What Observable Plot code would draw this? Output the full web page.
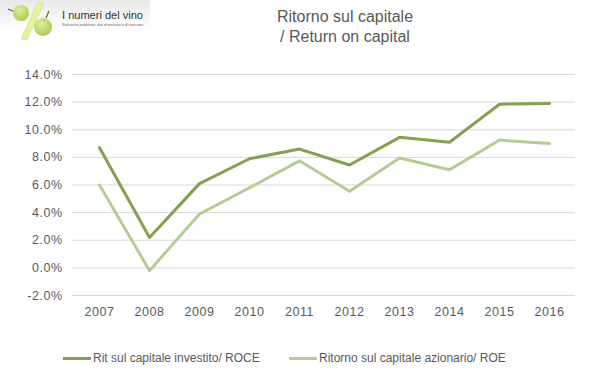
<!DOCTYPE html>
<html>
<head>
<meta charset="utf-8">
<script src="https://cdn.jsdelivr.net/npm/d3@7"></script>
<script src="https://cdn.jsdelivr.net/npm/@observablehq/plot@0.6"></script>
<style>
  html, body { margin: 0; padding: 0; background: #fff; }
  #wrap { position: relative; width: 599px; height: 378px; overflow: hidden; font-family: "Liberation Sans", Arial, sans-serif; color: #595959; }
  #title { position: absolute; left: 245px; width: 200px; top: 7px; text-align: center; font-size: 16px; line-height: 20px; color: #595959; }
  #chart { position: absolute; left: 0; top: 0; }
  #legend { position: absolute; top: 350px; left: 0; width: 599px; height: 18px; font-size: 12px; }
  .li { position: absolute; top: 0; display: flex; align-items: center; height: 16px; white-space: pre; }
  .sw { width: 28px; height: 3px; margin-right: 2px; }
  #logo { position: absolute; left: 0; top: 0; }
</style>
</head>
<body>
<div id="wrap">
  <svg id="logo" width="170" height="46" viewBox="0 0 170 46">
    <defs>
      <linearGradient id="bg" x1="0" y1="0" x2="0" y2="1">
        <stop offset="0" stop-color="#e8e8e8"/>
        <stop offset="1" stop-color="#ffffff"/>
      </linearGradient>
      <radialGradient id="gr" cx="0.4" cy="0.35" r="0.7">
        <stop offset="0" stop-color="#dff0a0"/>
        <stop offset="1" stop-color="#a8c84a"/>
      </radialGradient>
    </defs>
    <rect x="0" y="0" width="150" height="30" fill="url(#bg)"/>
    <path d="M8,9 L15,12" stroke="#7a5a30" stroke-width="1.2"/>
    <circle cx="21" cy="13" r="8" fill="url(#gr)"/>
    <polygon points="38,2 44,3 27,40 21,39" fill="#e8f0a0" stroke="#d0dc80" stroke-width="0.6"/>
    <path d="M49,11 L46,18" stroke="#7a5a30" stroke-width="1.2"/>
    <circle cx="43" cy="27" r="9" fill="url(#gr)"/>
    <text x="62" y="19" font-size="11" textLength="81" lengthAdjust="spacingAndGlyphs" fill="#333" font-family="Liberation Sans, Arial, sans-serif">I numeri del vino</text>
    <text x="62" y="26" font-size="3.6" textLength="82" lengthAdjust="spacingAndGlyphs" fill="#666" font-family="Liberation Sans, Arial, sans-serif">Statistiche produttive, dati di mercato e di consumo.</text>
  </svg>
  <div id="title">Ritorno sul capitale<br>/ Return on capital</div>
  <div id="chart"></div>
  <div id="legend"></div>
</div>
<script>
const years = ["2007","2008","2009","2010","2011","2012","2013","2014","2015","2016"];
const roce = [8.7, 2.2, 6.1, 7.9, 8.6, 7.45, 9.45, 9.1, 11.85, 11.9];
const roe = [6.0, -0.2, 3.9, 5.8, 7.75, 5.55, 7.95, 7.1, 9.25, 9.0];
const seriesNames = ["Rit sul capitale investito/ ROCE", "Ritorno sul capitale azionario/ ROE"];
const seriesColors = ["#84a050", "#b5cd95"];
const yTicks = [-2, 0, 2, 4, 6, 8, 10, 12, 14];

const data = [];
years.forEach((y, i) => {
  data.push({year: y, value: roce[i], series: seriesNames[0]});
  data.push({year: y, value: roe[i], series: seriesNames[1]});
});

const chart = Plot.plot({
  width: 599,
  height: 335,
  marginTop: 74,
  marginBottom: 40,
  marginLeft: 72,
  marginRight: 24,
  style: {fontFamily: "Liberation Sans, Arial, sans-serif", fontSize: "12.5px", color: "#595959", background: "transparent", letterSpacing: "0.5px"},
  x: {type: "point", domain: years, padding: 0.5, label: null},
  y: {domain: [-2, 14], label: null},
  color: {domain: seriesNames, range: seriesColors},
  marks: [
    Plot.ruleY(yTicks, {stroke: "#d9d9d9", strokeWidth: 1}),
    Plot.axisY({ticks: yTicks, tickSize: 0, tickPadding: 10, tickFormat: d => d.toFixed(1) + "%", label: null, fill: "#595959"}),
    Plot.axisX({tickSize: 0, tickPadding: 12, label: null, fill: "#595959"}),
    Plot.line(data, {x: "year", y: "value", stroke: "series", z: "series", strokeWidth: 3, strokeLinejoin: "round", strokeLinecap: "round"})
  ]
});
document.getElementById("chart").appendChild(chart);

const legend = document.getElementById("legend");
const legendX = [63, 289];
seriesNames.forEach((n, i) => {
  const d = document.createElement("div");
  d.className = "li";
  d.style.left = legendX[i] + "px";
  const sw = document.createElement("span");
  sw.className = "sw";
  sw.style.background = seriesColors[i];
  const t = document.createElement("span");
  t.textContent = n;
  d.appendChild(sw);
  d.appendChild(t);
  legend.appendChild(d);
});
</script>
</body>
</html>
